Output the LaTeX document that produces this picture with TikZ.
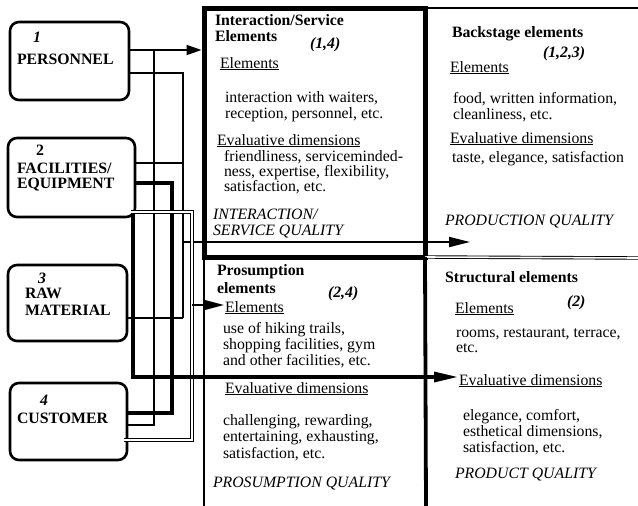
\documentclass[tikz,border=0pt]{standalone}
\usepackage{fontspec}
\setmainfont{Liberation Serif}
\usetikzlibrary{arrows.meta,calc}
% left-aligned block of lines whose baseline is the first line's
\newcommand\blk[1]{\begin{tabular}[t]{@{}l@{}}#1\end{tabular}}
\begin{document}
\begin{tikzpicture}[x=1pt,y=-1pt,
  every node/.style={inner sep=0pt, outer sep=0pt},
  txt/.style={anchor=base west, font=\fontsize{15.8}{#1}\selectfont},
  txt/.default=16.5,
  srcbox/.style={draw, line width=2.6pt, rounded corners=9pt},
  wire/.style={line width=1.8pt},
  heavy/.style={line width=3.2pt},
  twin/.style={double, line width=0.9pt, double distance=1.6pt},
  arrowhd/.style={-{Triangle[length=#1,width=10pt]}},
  arrowhd/.default=17pt,
]
\useasboundingbox (0,0) rectangle (638,506);

% ---------- quality grid ----------
\node[draw, line width=5pt, minimum width=221pt, minimum height=249pt] (inter) at (314.5,132.5) {};
\coordinate (rt) at (638,8);
\coordinate (rm) at (638,258);
\coordinate (bl) at (204,506);
\coordinate (br) at (426,506);
\draw[line width=1.6pt] (inter.north east) -- (rt);
\draw[twin] (inter.south east) -- (rm);
\draw[line width=2.4pt] (inter.south west) -- (bl);
\draw[line width=3.8pt] (inter.south east) -- (br);

% ---------- source boxes ----------
\node[srcbox, minimum width=119pt, minimum height=78pt] (b1) at (69.5,61) {};
\node[srcbox, minimum width=127pt, minimum height=79pt] (b2) at (71.5,177.5) {};
\node[srcbox, minimum width=119pt, minimum height=76pt] (b3) at (67.5,303) {};
\node[srcbox, minimum width=117pt, minimum height=77pt] (b4) at (68.5,421.5) {};

\node[txt] (n1) at (33,42) {\bfseries\itshape 1};
\node[txt] (lab1) at (17,64) {\bfseries PERSONNEL};
\node[txt] (n2) at (36,155) {\bfseries 2};
\node[txt=15.5] (lab2) at (17,173) {\bfseries\blk{FACILITIES/\\EQUIPMENT}};
\node[txt] (n3) at (38,283) {\bfseries\itshape 3};
\node[txt=17] (lab3) at (25,298) {\bfseries\blk{RAW\\MATERIAL}};
\node[txt] (n4) at (40,405) {\bfseries\itshape 4};
\node[txt] (lab4) at (17,423) {\bfseries CUSTOMER};

% ---------- interaction / service cell ----------
\node[txt=17] (ih) at (215,25) {\bfseries\blk{Interaction/Service\\Elements}};
\node[txt] (ik) at (310,48) {\bfseries\itshape (1,4)};
\node[txt] (ie) at (220,68) {\underline{Elements}};
\node[txt=16] (ieb) at (225,102) {\blk{interaction with waiters,\\reception, personnel, etc.}};
\node[txt] (iv) at (217,145) {\underline{Evaluative dimensions}};
\node[txt=14.5] (ivb) at (224,161) {\blk{friendliness, serviceminded-\\ness, expertise, flexibility,\\satisfaction, etc.}};
\node[txt=16.5] (iq) at (213,219) {\itshape\blk{INTERACTION/\\SERVICE QUALITY}};

% ---------- backstage cell ----------
\node[txt] (bh) at (452,37) {\bfseries Backstage elements};
\node[txt] (bk) at (543,57) {\bfseries\itshape (1,2,3)};
\node[txt] (be) at (450,72) {\underline{Elements}};
\node[txt=16.5] (beb) at (453,103) {\blk{food, written information,\\cleanliness, etc.}};
\node[txt] (bv) at (450,143) {\underline{Evaluative dimensions}};
\node[txt] (bvb) at (452,162) {taste, elegance, satisfaction};
\node[txt] (bq) at (445,225) {\itshape PRODUCTION QUALITY};

% ---------- prosumption cell ----------
\node[txt=18] (ph) at (217,275) {\bfseries\blk{Prosumption\\elements}};
\node[txt] (pk) at (328,297) {\bfseries\itshape (2,4)};
\node[txt] (pe) at (225,312) {\underline{Elements}};
\node[txt=16] (peb) at (223,333) {\blk{use of hiking trails,\\shopping facilities, gym\\and other facilities, etc.}};
\node[txt] (pv) at (225,393) {\underline{Evaluative dimensions}};
\node[txt=16.5] (pvb) at (223,425) {\blk{challenging, rewarding,\\entertaining, exhausting,\\satisfaction, etc.}};
\node[txt] (pq) at (213,487) {\itshape PROSUMPTION QUALITY};

% ---------- structural cell ----------
\node[txt] (sh) at (445,282) {\bfseries Structural elements};
\node[txt] (sk) at (567,306) {\bfseries\itshape (2)};
\node[txt] (se) at (455,313) {\underline{Elements}};
\node[txt=15.5] (seb) at (456,337) {\blk{rooms, restaurant, terrace,\\etc.}};
\node[txt] (sv) at (459,385) {\underline{Evaluative dimensions}};
\node[txt=16] (svb) at (463,420) {\blk{elegance, comfort,\\esthetical dimensions,\\satisfaction, etc.}};
\node[txt] (sq) at (455,478) {\itshape PRODUCT QUALITY};

% ---------- wiring junctions ----------
\coordinate (j1) at (154,50);    % personnel + customer -> interaction
\coordinate (j4) at (154,425);
\coordinate (k1) at (183,73);    % personnel + facilities + raw material -> backstage
\coordinate (k2) at (183,163);
\coordinate (kp) at (183,242);
\coordinate (k3) at (183,318);
\coordinate (prodtip) at (470,242);
\coordinate (t2) at (172,183);   % facilities -- customer
\coordinate (t4) at (172,413);
\coordinate (d2) at (192,212);   % facilities + customer -> prosumption
\coordinate (dp) at (192,305);
\coordinate (d4) at (192,440);
\coordinate (prostip) at (224,305);
\coordinate (s1) at (133,377);   % facilities -> structural
\coordinate (structip) at (458,377);

% personnel + customer -> interaction / service elements
\draw[wire, arrowhd=15pt, shorten >=2.5pt] (b1.east |- j1) -- (inter.west |- j1);
\draw[wire] (b4.east |- j4) -| (j1);

% personnel, facilities, raw material -> backstage elements
\draw[wire] (b1.east |- k1) -| (k3);
\draw[wire] (b2.east |- k2) -- (k2);
\draw[wire] (b3.east |- k3) -- (k3);
\draw[wire, arrowhd=21pt] (kp) -- (prodtip);

% facilities -- customer
\draw[heavy] (b2.east |- t2) -- (t2) -- (t4) -- (b4.east |- t4);

% facilities + customer -> prosumption elements
\draw[twin] ($(b2.east |- d2)+(-4,0)$) -- (d2) -- (d4) -- ($(b4.east |- d4)+(-3,0)$);
\draw[wire, arrowhd=20pt] (dp) -- (prostip);

% facilities -> structural elements
\draw[heavy, arrowhd=24pt] ($(b2.south east)+(-2,-3)$) -- (s1) -- (structip);
\end{tikzpicture}
\end{document}
